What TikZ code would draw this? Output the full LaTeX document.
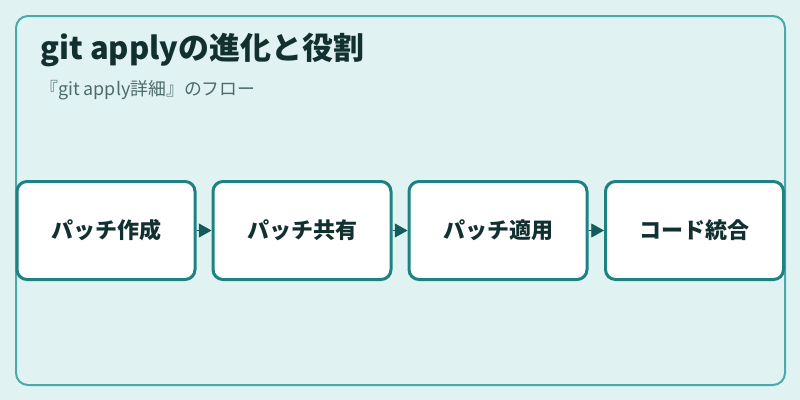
\documentclass[tikz,border=0pt]{standalone}
\usepackage{fontspec}
\setmainfont{Noto Sans CJK JP}
\usetikzlibrary{arrows.meta}
\definecolor{bgc}{HTML}{E0F3F2}
\definecolor{framec}{HTML}{4AA9A9}
\definecolor{boxc}{HTML}{1E8282}
\definecolor{arrc}{HTML}{145C5C}
\definecolor{titlec}{HTML}{133030}
\definecolor{subc}{HTML}{4D6B6B}
\tikzset{
  stepbox/.style={draw=boxc, line width=2.25pt, fill=white, rounded corners=7.5pt,
    minimum width=133.5pt, minimum height=73.5pt, inner sep=0pt,
    font=\fontsize{16.5pt}{19pt}\selectfont\bfseries, text=titlec},
  flow/.style={draw=arrc, line width=0.5pt, -{Triangle[length=9.5pt,width=10.5pt]}, fill=arrc}
}
\begin{document}
\begin{tikzpicture}[x=0.75pt,y=-0.75pt]
\useasboundingbox (0,0) rectangle (800,400);
\fill[bgc] (0,0) rectangle (800,400);
\draw[framec, line width=1.5pt, fill=bgc, rounded corners=9pt] (16,16) rectangle (785,385);
\node[anchor=base west, inner sep=0pt, text=titlec, font=\fontsize{23.2pt}{26pt}\selectfont\bfseries] (title) at (40,59) {git applyの進化と役割};
\node[anchor=base west, inner sep=0pt, text=subc, font=\fontsize{13.4pt}{16pt}\selectfont] (sub) at (40,95) {『git apply詳細』のフロー};
\node[stepbox] (s1) at (106,230.5) {\raisebox{-1pt}{パッチ作成}};
\node[stepbox] (s2) at (302,230.5) {\raisebox{-1pt}{パッチ共有}};
\node[stepbox] (s3) at (498,230.5) {\raisebox{-1pt}{パッチ適用}};
\node[stepbox] (s4) at (694.5,230.5) {\raisebox{-1pt}{コード統合}};
\draw[flow] (s1.east) -- (s2.west);
\draw[flow] (s2.east) -- (s3.west);
\draw[flow] (s3.east) -- (s4.west);
\end{tikzpicture}
\end{document}
